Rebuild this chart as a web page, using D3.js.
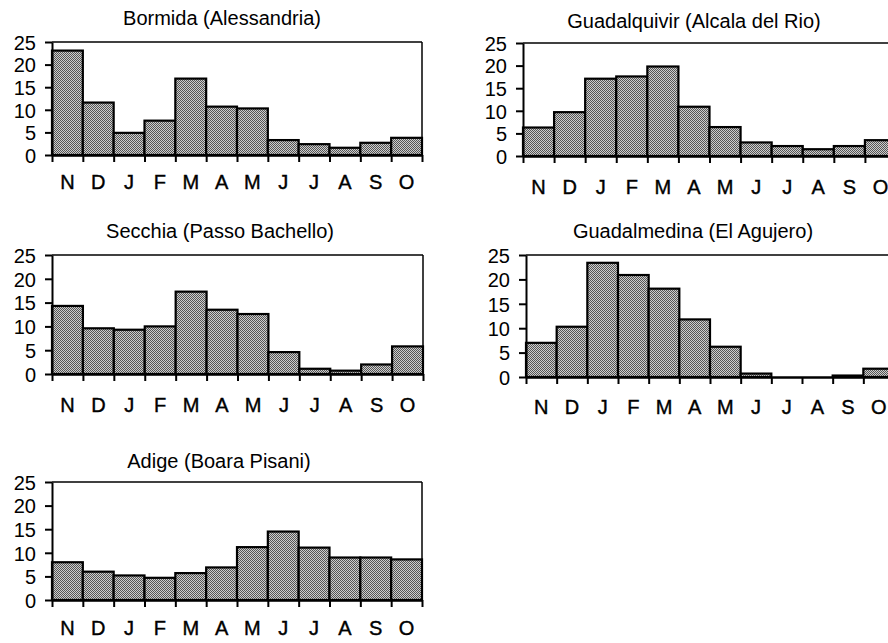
<!DOCTYPE html>
<html>
<head>
<meta charset="utf-8">
<script src="https://cdn.jsdelivr.net/npm/d3@7"></script>
<style>
  html, body { margin: 0; padding: 0; background: #fff; }
  svg { display: block; }
  text { font-family: "Liberation Sans", Arial, sans-serif; fill: #000; }
</style>
</head>
<body>
<script>
// ---- data ----
const months = ["N", "D", "J", "F", "M", "A", "M", "J", "J", "A", "S", "O"];
const yTicks = [0, 5, 10, 15, 20, 25];
const titles = ["Bormida (Alessandria)", "Guadalquivir (Alcala del Rio)", "Secchia (Passo Bachello)", "Guadalmedina (El Agujero)", "Adige (Boara Pisani)"];
const bormida = [23.1, 11.6, 4.9, 7.6, 16.9, 10.7, 10.3, 3.3, 2.4, 1.6, 2.7, 3.8];
const guadalquivir = [6.3, 9.7, 17.1, 17.6, 19.8, 10.9, 6.4, 3.0, 2.2, 1.5, 2.2, 3.5];
const secchia = [14.3, 9.6, 9.3, 10.0, 17.3, 13.5, 12.6, 4.6, 1.1, 0.7, 2.0, 5.8];
const guadalmedina = [7.0, 10.3, 23.4, 20.9, 18.1, 11.8, 6.2, 0.7, 0, 0, 0.3, 1.7];
const adige = [8.0, 6.0, 5.2, 4.7, 5.7, 6.9, 11.2, 14.5, 11.1, 9.0, 9.0, 8.6];
const seriesList = [bormida, guadalquivir, secchia, guadalmedina, adige];

// ---- layout (pixel geometry of each panel) ----
const layout = [
  { x0: 52,  x1: 422, yTop: 42,  yBot: 155, titleX: 222, titleY: 25,  labY: 189 },
  { x0: 523, x1: 896, yTop: 43,  yBot: 156, titleX: 694, titleY: 28,  labY: 194 },
  { x0: 52,  x1: 423, yTop: 255, yBot: 374, titleX: 220, titleY: 238, labY: 412 },
  { x0: 526, x1: 894, yTop: 255, yBot: 377, titleX: 693, titleY: 238, labY: 414 },
  { x0: 52,  x1: 422, yTop: 482, yBot: 600, titleX: 219, titleY: 468, labY: 635 }
];

const svg = d3.select("body").append("svg").attr("width", 888).attr("height", 643);

const defs = svg.append("defs");
const pat = defs.append("pattern").attr("id", "dither")
  .attr("patternUnits", "userSpaceOnUse").attr("width", 2).attr("height", 2);
pat.append("rect").attr("width", 2).attr("height", 2).attr("fill", "#cdcdcd");
pat.append("rect").attr("x", 0).attr("y", 0).attr("width", 1).attr("height", 1).attr("fill", "#555555");
pat.append("rect").attr("x", 1).attr("y", 1).attr("width", 1).attr("height", 1).attr("fill", "#555555");

seriesList.forEach((vals, i) => {
  const L = layout[i];
  const g = svg.append("g");
  const idx = d3.range(months.length);
  const x = d3.scaleBand().domain(idx).range([L.x0, L.x1]).padding(0);
  const xEdge = d3.scaleLinear().domain([0, months.length]).range([L.x0, L.x1]);
  const y = d3.scaleLinear().domain([0, 25]).range([L.yBot, L.yTop]);

  // title
  g.append("text").attr("x", L.titleX).attr("y", L.titleY)
    .attr("text-anchor", "middle").attr("font-size", 20)
    .text(titles[i]);

  // bars
  g.selectAll("rect.bar").data(vals).join("rect")
    .attr("class", "bar")
    .attr("x", (d, j) => x(j))
    .attr("width", x.bandwidth())
    .attr("y", d => y(d))
    .attr("height", d => y(0) - y(d))
    .attr("fill", "url(#dither)")
    .attr("stroke", d => d > 0 ? "#000" : "none")
    .attr("stroke-width", 2.2);

  // frame top & right
  g.append("line").attr("x1", L.x0).attr("x2", L.x1).attr("y1", y(25)).attr("y2", y(25))
    .attr("stroke", "#000").attr("stroke-width", 1.5);
  g.append("line").attr("x1", L.x1).attr("x2", L.x1).attr("y1", y(25)).attr("y2", y(0))
    .attr("stroke", "#000").attr("stroke-width", 1.5);

  // y axis
  const ya = g.append("g").attr("transform", `translate(${L.x0},0)`)
    .call(d3.axisLeft(y).tickValues(yTicks).tickSize(7).tickSizeOuter(0).tickPadding(9));
  ya.select(".domain").attr("stroke-width", 2);
  ya.selectAll(".tick line").attr("stroke-width", 2);
  ya.selectAll("text").attr("font-size", 20).attr("font-family", "Liberation Sans, Arial, sans-serif")
    .attr("dy", "0.36em");

  // x axis baseline with boundary ticks
  const xa = g.append("g").attr("transform", `translate(0,${L.yBot})`)
    .call(d3.axisBottom(xEdge).tickValues(d3.range(months.length + 1)).tickSize(7).tickSizeOuter(0).tickFormat(""));
  xa.select(".domain").attr("stroke-width", 2.5);
  xa.selectAll(".tick line").attr("stroke-width", 2);

  // month labels
  const ma = g.append("g").attr("transform", `translate(0,${L.labY})`)
    .call(d3.axisBottom(x).tickSize(0).tickPadding(0).tickFormat(j => months[j]));
  ma.select(".domain").remove();
  ma.selectAll("text").attr("font-size", 20).attr("font-family", "Liberation Sans, Arial, sans-serif")
    .attr("dy", 0).attr("y", 0)
    .attr("stroke", "#000").attr("stroke-width", 0.4);
});
</script>
</body>
</html>
